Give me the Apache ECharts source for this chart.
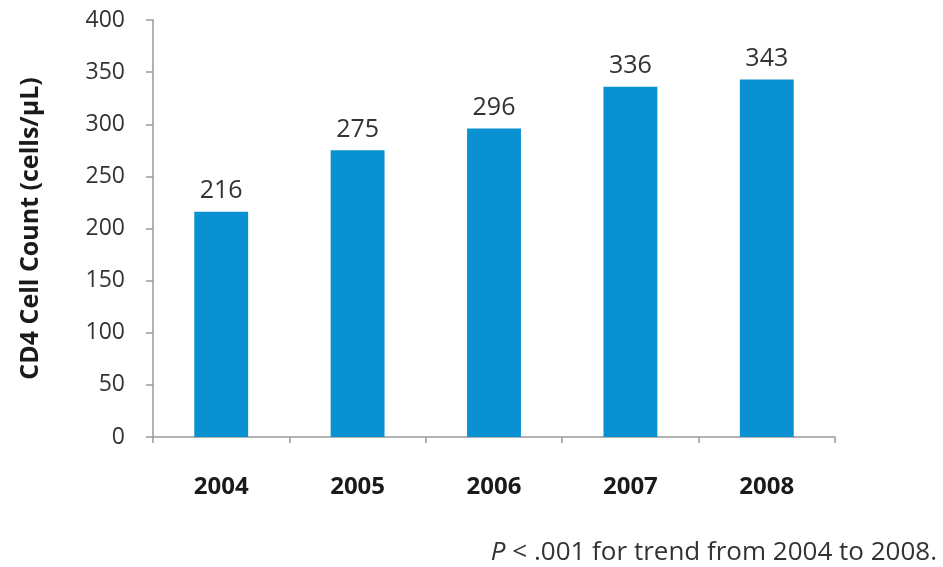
<!DOCTYPE html>
<html>
<head>
<meta charset="utf-8">
<script src="https://cdn.jsdelivr.net/npm/echarts@6/dist/echarts.min.js"></script>
<style>
  html, body { margin: 0; padding: 0; background: #fff; }
  #chart { width: 943px; height: 567px; }
</style>
</head>
<body>
<div id="chart"></div>
<script>
// CD4 cell count by year
const years = ['2004', '2005', '2006', '2007', '2008'];
const cd4Counts = [216, 275, 296, 336, 343];
const yTicks = { min: 0, max: 400, step: 50 };

const font = '"Open Sans", "Liberation Sans", sans-serif';
const chart = echarts.init(document.getElementById('chart'), null, { renderer: 'canvas' });

chart.setOption({
  animation: false,
  backgroundColor: '#ffffff',
  textStyle: { fontFamily: font },
  grid: { left: 153, right: 108, top: 20, bottom: 130, containLabel: false },
  xAxis: {
    type: 'category',
    data: years,
    axisLine: { lineStyle: { color: '#9a9a9a', width: 1.5 } },
    axisTick: { show: true, alignWithLabel: false, length: 6, lineStyle: { color: '#9a9a9a', width: 1.5 } },
    axisLabel: { color: '#1a1a1a', fontSize: 24, fontWeight: 'bold', fontFamily: font, margin: 38 }
  },
  yAxis: {
    type: 'value',
    min: yTicks.min,
    max: yTicks.max,
    interval: yTicks.step,
    name: 'CD4 Cell Count (cells/μL)',
    nameLocation: 'middle',
    nameGap: 110,
    nameTextStyle: { color: '#1a1a1a', fontSize: 25, fontWeight: 'bold', fontFamily: font },
    axisLine: { show: true, lineStyle: { color: '#9a9a9a', width: 1.5 } },
    axisTick: { show: true, length: 7, lineStyle: { color: '#9a9a9a', width: 1.5 } },
    axisLabel: { color: '#333333', fontSize: 23, fontFamily: font, margin: 28 },
    splitLine: { show: false }
  },
  series: [{
    type: 'bar',
    data: cd4Counts,
    barWidth: '39.5%',
    itemStyle: { color: '#0A91D1' },
    label: {
      show: true,
      position: 'top',
      distance: 8,
      color: '#333333',
      fontSize: 25,
      fontFamily: font
    }
  }],
  graphic: [{
    type: 'text',
    x: 937,
    y: 553,
    style: {
      text: '{i|P} < .001 for trend from 2004 to 2008.',
      fill: '#333333',
      font: '26px ' + font,
      align: 'right',
      verticalAlign: 'middle',
      rich: {
        i: { fontStyle: 'italic', fontSize: 26, fontFamily: font, fill: '#333333' }
      }
    }
  }]
});
</script>
</body>
</html>
